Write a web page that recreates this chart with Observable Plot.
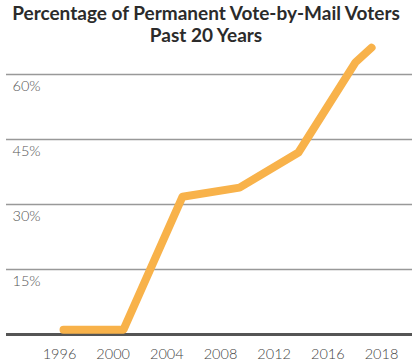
<!DOCTYPE html>
<html>
<head>
<meta charset="utf-8">
<script src="https://cdn.jsdelivr.net/npm/d3@7"></script>
<script src="https://cdn.jsdelivr.net/npm/@observablehq/plot@0.6"></script>
<style>
  html, body { margin: 0; padding: 0; background: #fff; }
  #wrap { position: relative; width: 412px; height: 364px; }
  #title { position: absolute; left: 0; top: 0; width: 412px; padding-top: 2px;
    font-family: Lato, "Open Sans", sans-serif; font-weight: 700; font-size: 19px;
    line-height: 22px; text-align: center; color: #2b2b2b; z-index: 2; }
  #chart svg { display: block; }
</style>
</head>
<body>
<div id="wrap">
<div id="title">Percentage of Permanent Vote-by-Mail Voters<br>Past 20 Years</div>
<div id="chart"></div>
</div>
<script>
// Axis tick labels (categorical years, equally spaced)
const tickYears = [1996, 2000, 2004, 2008, 2012, 2016, 2018];
const yTicks = [15, 30, 45, 60];

// Line data (year position along the axis, percent)
const years = [1996.3, 2000.77, 2005.17, 2009.42, 2013.81, 2017.03, 2017.63];
const pct = [1.1, 1.1, 31.8, 33.9, 42.0, 62.8, 66.2];

const data = years.map((y, i) => ({year: y, value: pct[i]}));

const chart = Plot.plot({
  width: 412,
  height: 364,
  marginLeft: 6,
  marginRight: 0,
  marginTop: 0,
  marginBottom: 30,
  style: {fontFamily: "Lato, 'Open Sans', sans-serif", fontSize: "14.5px", fontWeight: 300, color: "#555", background: "transparent"},
  x: {type: "linear", domain: tickYears, range: [59, 381], axis: null},
  y: {domain: [0, 60], range: [334, 74], axis: null},
  marks: [
    Plot.ruleY(yTicks, {stroke: "#999", strokeWidth: 1.5}),
    Plot.text(yTicks, {y: d => d, text: d => d + "%", frameAnchor: "left", textAnchor: "start", dx: 6, dy: 12, fill: "#555", fontSize: 14.5, fontWeight: 300}),
    Plot.ruleY([0], {stroke: "#555", strokeWidth: 3}),
    Plot.axisX({ticks: tickYears, tickFormat: d => String(d), tickSize: 0, tickPadding: 14, fill: "#444", fontSize: 14.5, fontWeight: 300, label: null}),
    Plot.line(data, {x: "year", y: "value", stroke: "#F8B24A", strokeWidth: 8, strokeLinecap: "round", strokeLinejoin: "round"})
  ]
});
document.getElementById("chart").appendChild(chart);
</script>
</body>
</html>
